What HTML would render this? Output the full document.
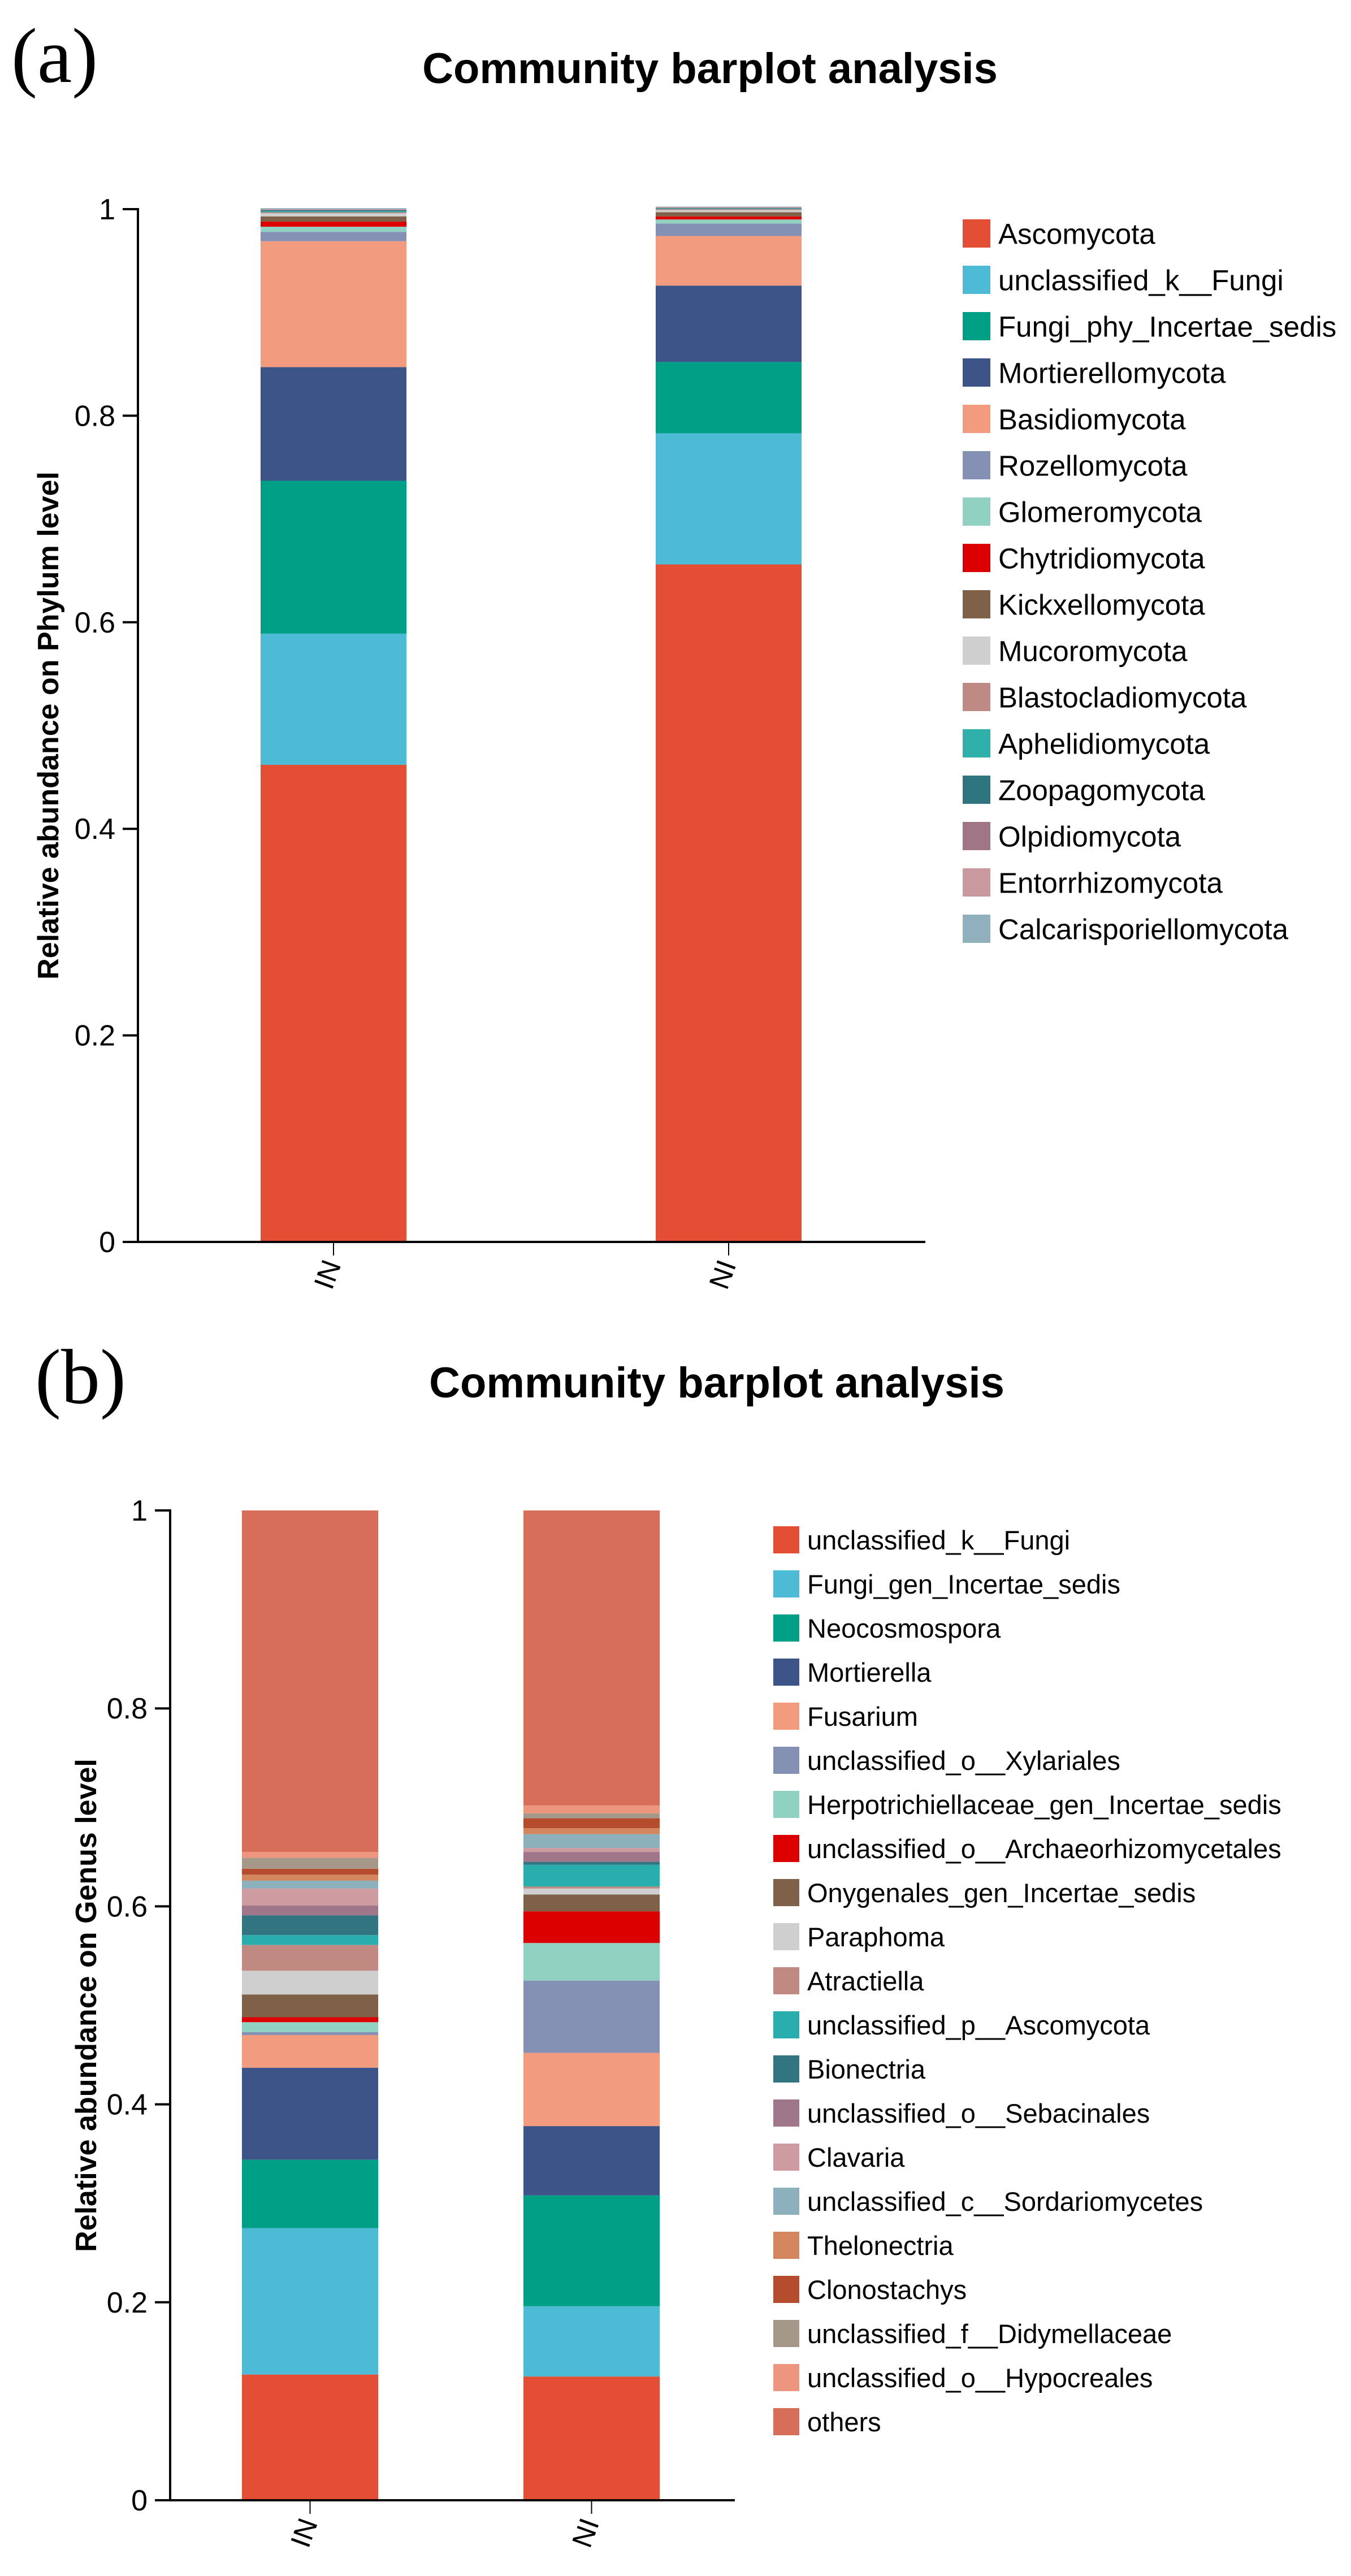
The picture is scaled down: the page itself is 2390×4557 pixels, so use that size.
<!DOCTYPE html>
<html><head><meta charset="utf-8">
<style>
html,body{margin:0;padding:0;background:#fff;}
svg{display:block;font-family:"Liberation Sans",Arial,sans-serif;}
</style></head>
<body>
<svg id="fig" width="2390" height="4557" viewBox="0 0 2390 4557" xmlns="http://www.w3.org/2000/svg">
<rect x="0" y="0" width="2390" height="4557" fill="#fff"/>
<text x="20" y="145" font-family="Liberation Serif, serif" font-size="138">(a)</text>
<text x="1256" y="147" font-size="76" font-weight="bold" text-anchor="middle">Community barplot analysis</text>
<text x="62" y="2482" font-family="Liberation Serif, serif" font-size="138">(b)</text>
<text x="1268" y="2472" font-size="76" font-weight="bold" text-anchor="middle">Community barplot analysis</text>
<g id="chartA"></g>
<g id="chartB"></g>
</svg>
<script>
// ---- Chart A data (phylum) ----
const samplesA = ["IN", "NI"];
const phylumNames = ["Ascomycota","unclassified_k__Fungi","Fungi_phy_Incertae_sedis","Mortierellomycota","Basidiomycota","Rozellomycota","Glomeromycota","Chytridiomycota","Kickxellomycota","Mucoromycota","Blastocladiomycota","Aphelidiomycota","Zoopagomycota","Olpidiomycota","Entorrhizomycota","Calcarisporiellomycota"];
const phylumColors = ["#e44e35","#4dbbd5","#00a087","#3c5488","#f39b7f","#8491b4","#91d1c2","#dc0000","#7e6148","#cfcfcf","#c08a84","#2fb0ab","#2f7580","#a07585","#c9999f","#8fb0bc"];
const phylumIN = [0.462,0.127,0.148,0.110,0.122,0.009,0.005,0.005,0.005,0.003,0.001,0.001,0.001,0.0005,0.0005,0.001];
const phylumNI = [0.656,0.127,0.069,0.074,0.048,0.012,0.004,0.003,0.004,0.002,0.001,0.0005,0.0005,0.0005,0.0005,0.0005];
const ticksA = [0,0.2,0.4,0.6,0.8,1];
const tickLabelsA = ["0","0.2","0.4","0.6","0.8","1"];

// ---- Chart B data (genus) ----
const samplesB = ["IN", "NI"];
const genusNames = ["unclassified_k__Fungi","Fungi_gen_Incertae_sedis","Neocosmospora","Mortierella","Fusarium","unclassified_o__Xylariales","Herpotrichiellaceae_gen_Incertae_sedis","unclassified_o__Archaeorhizomycetales","Onygenales_gen_Incertae_sedis","Paraphoma","Atractiella","unclassified_p__Ascomycota","Bionectria","unclassified_o__Sebacinales","Clavaria","unclassified_c__Sordariomycetes","Thelonectria","Clonostachys","unclassified_f__Didymellaceae","unclassified_o__Hypocreales","others"];
const genusColors = ["#e44e35","#4dbbd5","#00a087","#3c5488","#f39b7f","#8491b4","#91d1c2","#dc0000","#7e6148","#cfcfcf","#c08a82","#2aaead","#327480","#a0768a","#cd9ba0","#8cb1bd","#d4875f","#b64c2e","#a59889","#ee9580","#d66e5a"];
const genusIN = [0.127,0.148,0.069,0.093,0.033,0.003,0.010,0.005,0.023,0.024,0.026,0.010,0.020,0.010,0.017,0.008,0.006,0.006,0.011,0.006,0.345];
const genusNI = [0.125,0.071,0.112,0.070,0.074,0.073,0.038,0.032,0.017,0.006,0.002,0.022,0.003,0.010,0.004,0.014,0.006,0.010,0.005,0.008,0.298];
const ticksB = [0,0.2,0.4,0.6,0.8,1];
const tickLabelsB = ["0","0.2","0.4","0.6","0.8","1"];

const NS = "http://www.w3.org/2000/svg";
function mk(parent, tag, attrs, txt) {
  const e = document.createElementNS(NS, tag);
  for (const k in attrs) e.setAttribute(k, attrs[k]);
  if (txt !== undefined) e.textContent = txt;
  parent.appendChild(e);
  return e;
}

function drawChart(g, cfg, samples, names, colors, series, ticks, tickLabels, yTitle) {
  const y = v => cfg.y0 - v * (cfg.y0 - cfg.y1);
  samples.forEach((s, i) => {
    const xl = cfg.barX[i];
    let cum = 0;
    series[i].forEach((v, j) => {
      const top = y(cum + v), bot = y(cum);
      const r = mk(g, "rect", {x: xl, y: top, width: cfg.barW, height: Math.max(0, bot - top), fill: colors[j]});
      
      
      cum += v;
    });
    const cx = xl + cfg.barW / 2;
    const t = mk(g, "line", {x1: cx, y1: cfg.y0, x2: cx, y2: cfg.y0 + 24, stroke: "#000", "stroke-width": 2});
    
    
    const lbl = mk(g, "text", {x: 0, y: 0, "font-size": 50, "text-anchor": "end", transform: "translate(" + (cx + 14) + "," + (cfg.y0 + 40) + ") rotate(-70)"}, s);
    
    
  });
  const ya = mk(g, "line", {x1: cfg.ax, y1: cfg.y1 - 2, x2: cfg.ax, y2: cfg.y0, stroke: "#000", "stroke-width": 4});
  
  
  const xa = mk(g, "line", {x1: cfg.ax - 27, y1: cfg.y0, x2: cfg.axEnd, y2: cfg.y0, stroke: "#000", "stroke-width": 4});
  
  
  ticks.forEach((v, i) => {
    const tl = mk(g, "line", {x1: cfg.ax - 27, y1: y(v), x2: cfg.ax, y2: y(v), stroke: "#000", "stroke-width": 4});
    
    
    const tx = mk(g, "text", {x: cfg.ax - 40, y: y(v) + 18, "font-size": 52, "text-anchor": "end"}, tickLabels[i]);
    
    
  });
  const yt = mk(g, "text", {x: 0, y: 0, "font-size": 52, "font-weight": "bold", "text-anchor": "middle", transform: "translate(" + cfg.ytX + "," + ((cfg.y0 + cfg.y1) / 2) + ") rotate(-90)"}, yTitle);
  
  
  names.forEach((n, j) => {
    const ly = cfg.legY + j * cfg.legStep;
    const sw = mk(g, "rect", {x: cfg.legX, y: ly - cfg.swH / 2, width: cfg.swW, height: cfg.swH, fill: colors[j]});
    
    
    const lt = mk(g, "text", {x: cfg.legX + cfg.swW + 14, y: ly + cfg.legFont * 0.36, "font-size": cfg.legFont}, n);
    
    
  });
}

drawChart(document.getElementById("chartA"),
  {y0: 2197, y1: 370, ax: 244, axEnd: 1637, barX: [461, 1160], barW: 258, ytX: 103,
   legX: 1703, legY: 413, legStep: 82, swW: 49, swH: 50, legFont: 51},
  samplesA, phylumNames, phylumColors, [phylumIN, phylumNI], ticksA, tickLabelsA,
  "Relative abundance on Phylum level");

drawChart(document.getElementById("chartB"),
  {y0: 4423, y1: 2672, ax: 301, axEnd: 1300, barX: [428, 926], barW: 241, ytX: 170,
   legX: 1368, legY: 2724, legStep: 78, swW: 46, swH: 48, legFont: 47},
  samplesB, genusNames, genusColors, [genusIN, genusNI], ticksB, tickLabelsB,
  "Relative abundance on Genus level");
</script>
</body></html>
